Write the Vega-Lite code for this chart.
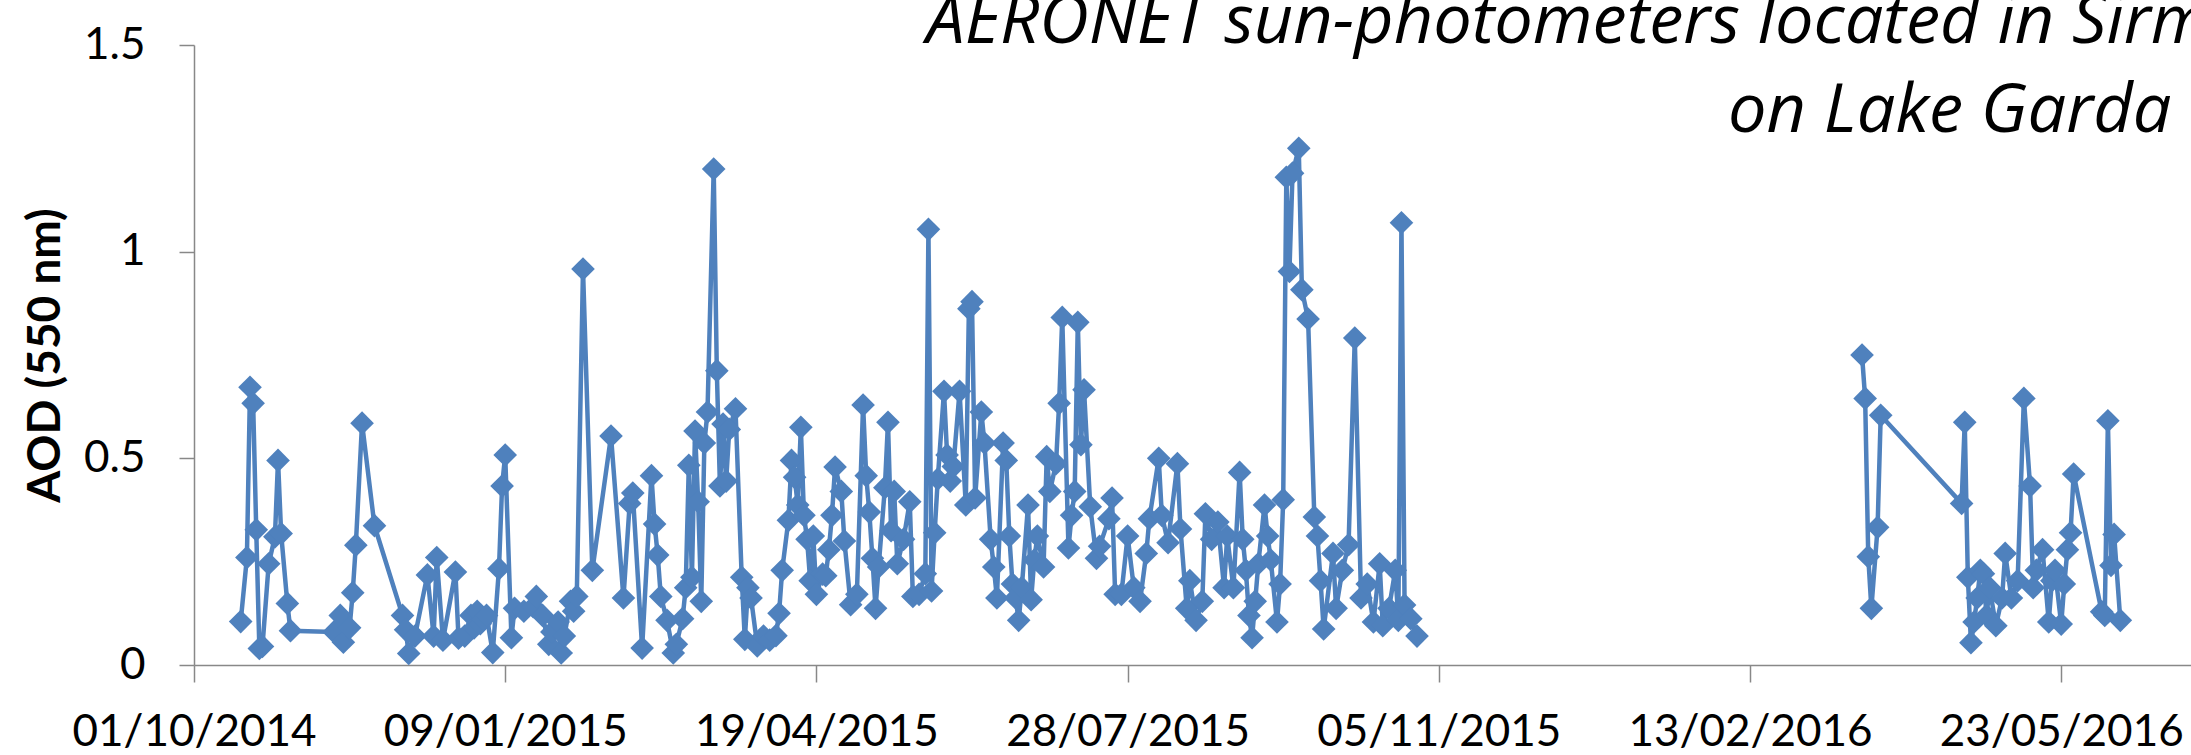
{
"$schema": "https://vega.github.io/schema/vega-lite/v6.json",
"width": 1997, "height": 620,
"autosize": {"type": "none"},
"padding": {"left": 194, "top": 45, "right": 0, "bottom": 90},
"background": "white",
"title": {"text": ["AERONET sun-photometers located in Sirmione,", "on Lake Garda (Italy)"], "anchor": "end", "align": "right", "frame": "group", "font": "Open Sans", "fontStyle": "italic", "fontWeight": "normal", "fontSize": 68.5, "lineHeight": 89, "color": "black", "baseline": "alphabetic", "offset": 0, "dx": 166, "dy": 177},
"config": {"view": {"stroke": null}, "axis": {"grid": false}},
"data": {"values": [
{"date":"2014-10-16","aod":0.105,"period":"a"},{"date":"2014-10-18","aod":0.26,"period":"a"},{"date":"2014-10-19","aod":0.672,"period":"a"},{"date":"2014-10-20","aod":0.633,"period":"a"},{"date":"2014-10-21","aod":0.327,"period":"a"},{"date":"2014-10-22","aod":0.04,"period":"a"},{"date":"2014-10-23","aod":0.045,"period":"a"},{"date":"2014-10-25","aod":0.245,"period":"a"},{"date":"2014-10-27","aod":0.31,"period":"a"},{"date":"2014-10-28","aod":0.495,"period":"a"},{"date":"2014-10-29","aod":0.318,"period":"a"},{"date":"2014-10-31","aod":0.149,"period":"a"},{"date":"2014-11-01","aod":0.083,"period":"a"},{"date":"2014-11-15","aod":0.08,"period":"a"},{"date":"2014-11-17","aod":0.12,"period":"a"},{"date":"2014-11-18","aod":0.055,"period":"a"},{"date":"2014-11-20","aod":0.09,"period":"a"},{"date":"2014-11-21","aod":0.175,"period":"a"},{"date":"2014-11-22","aod":0.29,"period":"a"},{"date":"2014-11-24","aod":0.585,"period":"a"},{"date":"2014-11-28","aod":0.337,"period":"a"},
{"date":"2014-12-07","aod":0.12,"period":"a"},{"date":"2014-12-08","aod":0.085,"period":"a"},{"date":"2014-12-09","aod":0.028,"period":"a"},{"date":"2014-12-11","aod":0.07,"period":"a"},{"date":"2014-12-15","aod":0.218,"period":"a"},{"date":"2014-12-17","aod":0.07,"period":"a"},{"date":"2014-12-18","aod":0.26,"period":"a"},{"date":"2014-12-20","aod":0.06,"period":"a"},{"date":"2014-12-24","aod":0.225,"period":"a"},{"date":"2014-12-25","aod":0.065,"period":"a"},{"date":"2014-12-27","aod":0.07,"period":"a"},{"date":"2014-12-29","aod":0.12,"period":"a"},{"date":"2014-12-30","aod":0.09,"period":"a"},{"date":"2014-12-31","aod":0.13,"period":"a"},
{"date":"2015-01-01","aod":0.1,"period":"a"},{"date":"2015-01-02","aod":0.11,"period":"a"},{"date":"2015-01-03","aod":0.12,"period":"a"},{"date":"2015-01-05","aod":0.03,"period":"a"},{"date":"2015-01-07","aod":0.233,"period":"a"},{"date":"2015-01-08","aod":0.433,"period":"a"},{"date":"2015-01-09","aod":0.508,"period":"a"},{"date":"2015-01-11","aod":0.066,"period":"a"},{"date":"2015-01-12","aod":0.137,"period":"a"},{"date":"2015-01-15","aod":0.13,"period":"a"},{"date":"2015-01-18","aod":0.141,"period":"a"},{"date":"2015-01-19","aod":0.166,"period":"a"},{"date":"2015-01-21","aod":0.12,"period":"a"},{"date":"2015-01-23","aod":0.05,"period":"a"},{"date":"2015-01-24","aod":0.08,"period":"a"},{"date":"2015-01-26","aod":0.104,"period":"a"},{"date":"2015-01-27","aod":0.029,"period":"a"},{"date":"2015-01-28","aod":0.07,"period":"a"},{"date":"2015-01-30","aod":0.154,"period":"a"},{"date":"2015-01-31","aod":0.13,"period":"a"},
{"date":"2015-02-01","aod":0.166,"period":"a"},{"date":"2015-02-03","aod":0.958,"period":"a"},{"date":"2015-02-06","aod":0.229,"period":"a"},{"date":"2015-02-12","aod":0.554,"period":"a"},{"date":"2015-02-16","aod":0.162,"period":"a"},{"date":"2015-02-18","aod":0.391,"period":"a"},{"date":"2015-02-19","aod":0.416,"period":"a"},{"date":"2015-02-22","aod":0.041,"period":"a"},{"date":"2015-02-25","aod":0.458,"period":"a"},{"date":"2015-02-26","aod":0.341,"period":"a"},{"date":"2015-02-27","aod":0.266,"period":"a"},{"date":"2015-02-28","aod":0.166,"period":"a"},
{"date":"2015-03-02","aod":0.108,"period":"a"},{"date":"2015-03-04","aod":0.029,"period":"a"},{"date":"2015-03-05","aod":0.05,"period":"a"},{"date":"2015-03-07","aod":0.112,"period":"a"},{"date":"2015-03-08","aod":0.187,"period":"a"},{"date":"2015-03-09","aod":0.483,"period":"a"},{"date":"2015-03-10","aod":0.212,"period":"a"},{"date":"2015-03-11","aod":0.566,"period":"a"},{"date":"2015-03-12","aod":0.395,"period":"a"},{"date":"2015-03-13","aod":0.154,"period":"a"},{"date":"2015-03-14","aod":0.537,"period":"a"},{"date":"2015-03-15","aod":0.612,"period":"a"},{"date":"2015-03-17","aod":1.2,"period":"a"},{"date":"2015-03-18","aod":0.712,"period":"a"},{"date":"2015-03-19","aod":0.433,"period":"a"},{"date":"2015-03-20","aod":0.583,"period":"a"},{"date":"2015-03-21","aod":0.445,"period":"a"},{"date":"2015-03-22","aod":0.57,"period":"a"},{"date":"2015-03-24","aod":0.62,"period":"a"},{"date":"2015-03-26","aod":0.212,"period":"a"},{"date":"2015-03-27","aod":0.062,"period":"a"},{"date":"2015-03-28","aod":0.187,"period":"a"},{"date":"2015-03-29","aod":0.162,"period":"a"},{"date":"2015-03-31","aod":0.046,"period":"a"},
{"date":"2015-04-02","aod":0.07,"period":"a"},{"date":"2015-04-04","aod":0.06,"period":"a"},{"date":"2015-04-06","aod":0.071,"period":"a"},{"date":"2015-04-07","aod":0.125,"period":"a"},{"date":"2015-04-08","aod":0.229,"period":"a"},{"date":"2015-04-10","aod":0.35,"period":"a"},{"date":"2015-04-11","aod":0.495,"period":"a"},{"date":"2015-04-12","aod":0.454,"period":"a"},{"date":"2015-04-13","aod":0.387,"period":"a"},{"date":"2015-04-14","aod":0.575,"period":"a"},{"date":"2015-04-15","aod":0.362,"period":"a"},{"date":"2015-04-16","aod":0.304,"period":"a"},{"date":"2015-04-17","aod":0.204,"period":"a"},{"date":"2015-04-18","aod":0.312,"period":"a"},{"date":"2015-04-19","aod":0.171,"period":"a"},{"date":"2015-04-21","aod":0.22,"period":"a"},{"date":"2015-04-22","aod":0.216,"period":"a"},{"date":"2015-04-23","aod":0.279,"period":"a"},{"date":"2015-04-24","aod":0.362,"period":"a"},{"date":"2015-04-25","aod":0.479,"period":"a"},{"date":"2015-04-27","aod":0.42,"period":"a"},{"date":"2015-04-28","aod":0.3,"period":"a"},{"date":"2015-04-30","aod":0.146,"period":"a"},
{"date":"2015-05-02","aod":0.171,"period":"a"},{"date":"2015-05-04","aod":0.629,"period":"a"},{"date":"2015-05-05","aod":0.458,"period":"a"},{"date":"2015-05-06","aod":0.37,"period":"a"},{"date":"2015-05-07","aod":0.258,"period":"a"},{"date":"2015-05-08","aod":0.137,"period":"a"},{"date":"2015-05-09","aod":0.237,"period":"a"},{"date":"2015-05-11","aod":0.429,"period":"a"},{"date":"2015-05-12","aod":0.587,"period":"a"},{"date":"2015-05-13","aod":0.325,"period":"a"},{"date":"2015-05-14","aod":0.42,"period":"a"},{"date":"2015-05-15","aod":0.245,"period":"a"},{"date":"2015-05-17","aod":0.304,"period":"a"},{"date":"2015-05-19","aod":0.395,"period":"a"},{"date":"2015-05-20","aod":0.166,"period":"a"},{"date":"2015-05-22","aod":0.171,"period":"a"},{"date":"2015-05-24","aod":0.221,"period":"a"},{"date":"2015-05-25","aod":1.054,"period":"a"},{"date":"2015-05-26","aod":0.179,"period":"a"},{"date":"2015-05-27","aod":0.32,"period":"a"},{"date":"2015-05-28","aod":0.45,"period":"a"},{"date":"2015-05-30","aod":0.662,"period":"a"},{"date":"2015-05-31","aod":0.508,"period":"a"},
{"date":"2015-06-01","aod":0.445,"period":"a"},{"date":"2015-06-02","aod":0.48,"period":"a"},{"date":"2015-06-04","aod":0.662,"period":"a"},{"date":"2015-06-06","aod":0.387,"period":"a"},{"date":"2015-06-07","aod":0.862,"period":"a"},{"date":"2015-06-08","aod":0.879,"period":"a"},{"date":"2015-06-09","aod":0.404,"period":"a"},{"date":"2015-06-11","aod":0.612,"period":"a"},{"date":"2015-06-12","aod":0.537,"period":"a"},{"date":"2015-06-14","aod":0.304,"period":"a"},{"date":"2015-06-15","aod":0.237,"period":"a"},{"date":"2015-06-16","aod":0.162,"period":"a"},{"date":"2015-06-18","aod":0.537,"period":"a"},{"date":"2015-06-19","aod":0.495,"period":"a"},{"date":"2015-06-20","aod":0.312,"period":"a"},{"date":"2015-06-21","aod":0.196,"period":"a"},{"date":"2015-06-22","aod":0.162,"period":"a"},{"date":"2015-06-23","aod":0.108,"period":"a"},{"date":"2015-06-24","aod":0.187,"period":"a"},{"date":"2015-06-26","aod":0.387,"period":"a"},{"date":"2015-06-27","aod":0.158,"period":"a"},{"date":"2015-06-28","aod":0.254,"period":"a"},{"date":"2015-06-29","aod":0.312,"period":"a"},
{"date":"2015-07-01","aod":0.237,"period":"a"},{"date":"2015-07-02","aod":0.504,"period":"a"},{"date":"2015-07-03","aod":0.42,"period":"a"},{"date":"2015-07-05","aod":0.487,"period":"a"},{"date":"2015-07-06","aod":0.633,"period":"a"},{"date":"2015-07-07","aod":0.841,"period":"a"},{"date":"2015-07-09","aod":0.283,"period":"a"},{"date":"2015-07-10","aod":0.362,"period":"a"},{"date":"2015-07-11","aod":0.42,"period":"a"},{"date":"2015-07-12","aod":0.829,"period":"a"},{"date":"2015-07-13","aod":0.533,"period":"a"},{"date":"2015-07-14","aod":0.666,"period":"a"},{"date":"2015-07-16","aod":0.383,"period":"a"},{"date":"2015-07-18","aod":0.258,"period":"a"},{"date":"2015-07-19","aod":0.287,"period":"a"},{"date":"2015-07-22","aod":0.354,"period":"a"},{"date":"2015-07-23","aod":0.404,"period":"a"},{"date":"2015-07-24","aod":0.171,"period":"a"},{"date":"2015-07-26","aod":0.171,"period":"a"},{"date":"2015-07-28","aod":0.312,"period":"a"},{"date":"2015-07-30","aod":0.187,"period":"a"},
{"date":"2015-08-01","aod":0.154,"period":"a"},{"date":"2015-08-03","aod":0.27,"period":"a"},{"date":"2015-08-04","aod":0.354,"period":"a"},{"date":"2015-08-07","aod":0.5,"period":"a"},{"date":"2015-08-08","aod":0.362,"period":"a"},{"date":"2015-08-10","aod":0.296,"period":"a"},{"date":"2015-08-13","aod":0.487,"period":"a"},{"date":"2015-08-14","aod":0.329,"period":"a"},{"date":"2015-08-16","aod":0.137,"period":"a"},{"date":"2015-08-17","aod":0.204,"period":"a"},{"date":"2015-08-19","aod":0.108,"period":"a"},{"date":"2015-08-21","aod":0.154,"period":"a"},{"date":"2015-08-22","aod":0.366,"period":"a"},{"date":"2015-08-24","aod":0.304,"period":"a"},{"date":"2015-08-26","aod":0.346,"period":"a"},{"date":"2015-08-28","aod":0.187,"period":"a"},{"date":"2015-08-29","aod":0.312,"period":"a"},{"date":"2015-08-31","aod":0.187,"period":"a"},
{"date":"2015-09-02","aod":0.466,"period":"a"},{"date":"2015-09-03","aod":0.304,"period":"a"},{"date":"2015-09-04","aod":0.229,"period":"a"},{"date":"2015-09-05","aod":0.12,"period":"a"},{"date":"2015-09-06","aod":0.066,"period":"a"},{"date":"2015-09-07","aod":0.154,"period":"a"},{"date":"2015-09-08","aod":0.245,"period":"a"},{"date":"2015-09-10","aod":0.387,"period":"a"},{"date":"2015-09-11","aod":0.312,"period":"a"},{"date":"2015-09-12","aod":0.254,"period":"a"},{"date":"2015-09-14","aod":0.104,"period":"a"},{"date":"2015-09-15","aod":0.196,"period":"a"},{"date":"2015-09-16","aod":0.4,"period":"a"},{"date":"2015-09-17","aod":1.18,"period":"a"},{"date":"2015-09-18","aod":0.952,"period":"a"},{"date":"2015-09-19","aod":1.19,"period":"a"},{"date":"2015-09-21","aod":1.25,"period":"a"},{"date":"2015-09-22","aod":0.908,"period":"a"},{"date":"2015-09-24","aod":0.837,"period":"a"},{"date":"2015-09-26","aod":0.358,"period":"a"},{"date":"2015-09-27","aod":0.312,"period":"a"},{"date":"2015-09-28","aod":0.204,"period":"a"},{"date":"2015-09-29","aod":0.087,"period":"a"},
{"date":"2015-10-02","aod":0.27,"period":"a"},{"date":"2015-10-03","aod":0.137,"period":"a"},{"date":"2015-10-05","aod":0.229,"period":"a"},{"date":"2015-10-07","aod":0.291,"period":"a"},{"date":"2015-10-09","aod":0.791,"period":"a"},{"date":"2015-10-11","aod":0.162,"period":"a"},{"date":"2015-10-13","aod":0.196,"period":"a"},{"date":"2015-10-15","aod":0.104,"period":"a"},{"date":"2015-10-17","aod":0.245,"period":"a"},{"date":"2015-10-18","aod":0.095,"period":"a"},{"date":"2015-10-20","aod":0.137,"period":"a"},{"date":"2015-10-22","aod":0.229,"period":"a"},{"date":"2015-10-23","aod":0.108,"period":"a"},{"date":"2015-10-24","aod":1.07,"period":"a"},{"date":"2015-10-25","aod":0.145,"period":"a"},{"date":"2015-10-27","aod":0.112,"period":"a"},{"date":"2015-10-29","aod":0.07,"period":"a"},
{"date":"2016-03-20","aod":0.75,"period":"b"},{"date":"2016-03-21","aod":0.645,"period":"b"},{"date":"2016-03-22","aod":0.262,"period":"b"},{"date":"2016-03-23","aod":0.137,"period":"b"},{"date":"2016-03-25","aod":0.333,"period":"b"},{"date":"2016-03-26","aod":0.604,"period":"b"},
{"date":"2016-04-21","aod":0.391,"period":"b"},{"date":"2016-04-22","aod":0.587,"period":"b"},{"date":"2016-04-23","aod":0.212,"period":"b"},{"date":"2016-04-24","aod":0.054,"period":"b"},{"date":"2016-04-25","aod":0.104,"period":"b"},{"date":"2016-04-26","aod":0.162,"period":"b"},{"date":"2016-04-27","aod":0.229,"period":"b"},{"date":"2016-04-28","aod":0.221,"period":"b"},{"date":"2016-04-29","aod":0.12,"period":"b"},{"date":"2016-04-30","aod":0.187,"period":"b"},
{"date":"2016-05-02","aod":0.095,"period":"b"},{"date":"2016-05-04","aod":0.162,"period":"b"},{"date":"2016-05-05","aod":0.27,"period":"b"},{"date":"2016-05-07","aod":0.162,"period":"b"},{"date":"2016-05-09","aod":0.204,"period":"b"},{"date":"2016-05-11","aod":0.645,"period":"b"},{"date":"2016-05-13","aod":0.433,"period":"b"},{"date":"2016-05-14","aod":0.187,"period":"b"},{"date":"2016-05-15","aod":0.229,"period":"b"},{"date":"2016-05-17","aod":0.279,"period":"b"},{"date":"2016-05-19","aod":0.104,"period":"b"},{"date":"2016-05-20","aod":0.204,"period":"b"},{"date":"2016-05-21","aod":0.229,"period":"b"},{"date":"2016-05-23","aod":0.099,"period":"b"},{"date":"2016-05-24","aod":0.196,"period":"b"},{"date":"2016-05-25","aod":0.279,"period":"b"},{"date":"2016-05-26","aod":0.32,"period":"b"},{"date":"2016-05-27","aod":0.462,"period":"b"},
{"date":"2016-06-05","aod":0.129,"period":"b"},{"date":"2016-06-06","aod":0.12,"period":"b"},{"date":"2016-06-07","aod":0.591,"period":"b"},{"date":"2016-06-08","aod":0.241,"period":"b"},{"date":"2016-06-09","aod":0.316,"period":"b"},{"date":"2016-06-11","aod":0.108,"period":"b"}
]},
"mark": {"type": "line", "color": "#4F81BD", "strokeWidth": 4.5, "point": {"shape": "diamond", "size": 560, "filled": true, "color": "#4F81BD", "opacity": 1}},
"encoding": {
"x": {"field": "date", "type": "temporal", "title": null,
 "scale": {"type": "utc", "domain": [{"year": 2014, "month": 10, "date": 1, "utc": true}, {"year": 2016, "month": 7, "date": 3, "hours": 17, "utc": true}]},
 "axis": {"values": [{"year": 2014, "month": 10, "date": 1, "utc": true}, {"year": 2015, "month": 1, "date": 9, "utc": true}, {"year": 2015, "month": 4, "date": 19, "utc": true}, {"year": 2015, "month": 7, "date": 28, "utc": true}, {"year": 2015, "month": 11, "date": 5, "utc": true}, {"year": 2016, "month": 2, "date": 13, "utc": true}, {"year": 2016, "month": 5, "date": 23, "utc": true}],
  "labelExpr": "utcFormat(datum.value, '%d/%m/%Y')", "labelFont": "Lato", "labelFontSize": 44, "labelColor": "black", "labelPadding": 28, "labelOverlap": false, "labelFlush": false, "labelLimit": 0,
  "domainColor": "#888888", "domainWidth": 1.5, "tickColor": "#888888", "tickWidth": 1.5, "tickSize": 17}},
"y": {"field": "aod", "type": "quantitative", "title": "AOD (550 nm)",
 "scale": {"domain": [0, 1.5]},
 "axis": {"values": [0, 0.5, 1, 1.5], "format": "~g", "labelFont": "Lato", "labelFontSize": 44, "labelColor": "black", "labelPadding": 34,
  "domainColor": "#888888", "domainWidth": 1.5, "tickColor": "#888888", "tickWidth": 1.5, "tickSize": 15,
  "titleFont": "Lato", "titleFontSize": 46, "titleFontWeight": "bold", "titleColor": "black", "titlePadding": 14}},
"detail": {"field": "period", "type": "nominal"}
}
}
